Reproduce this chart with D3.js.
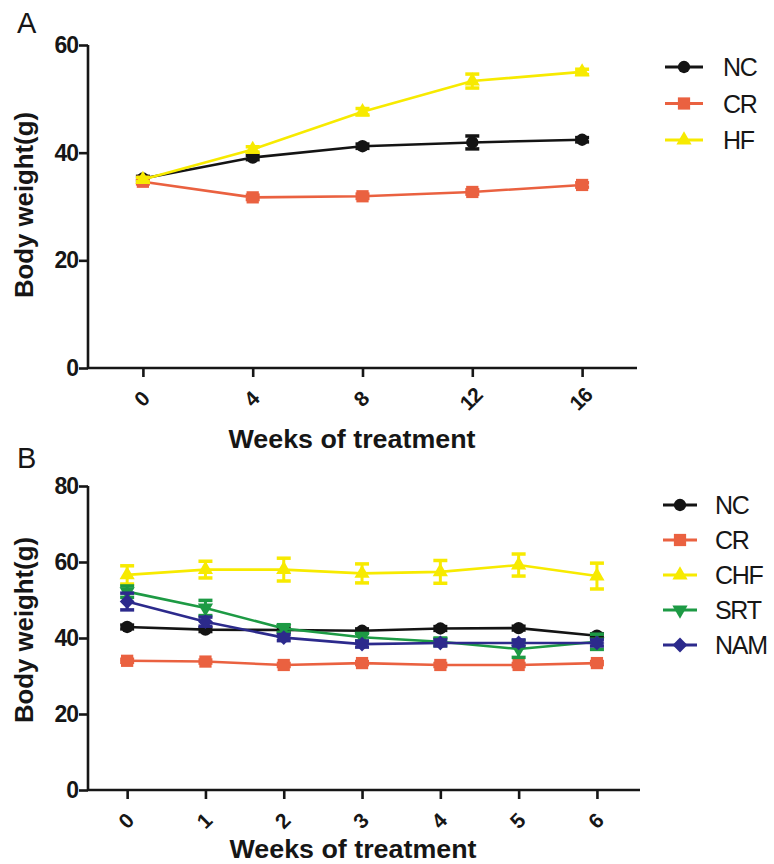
<!DOCTYPE html>
<html>
<head>
<meta charset="utf-8">
<script src="https://cdn.jsdelivr.net/npm/d3@7"></script>
<style>
  body { margin: 0; background: #fff; }
  svg { display: block; font-family: "Liberation Sans", Arial, sans-serif; }
</style>
</head>
<body>
<div id="chart"></div>
<script>
// 数据：A 图 (0-16 周)
const weeksA = [0, 4, 8, 12, 16];
const ncA = [35.2, 39.1, 41.2, 41.9, 42.4];
const ncAErr = [0.4, 0.4, 0.4, 1.2, 0.4];
const crA = [34.6, 31.7, 31.9, 32.7, 34.0];
const crAErr = [0.4, 0.4, 0.4, 0.4, 0.4];
const hfA = [35.0, 40.6, 47.6, 53.3, 55.0];
const hfAErr = [0.4, 0.5, 0.6, 1.3, 0.5];
const yTicksA = [0, 20, 40, 60];

// 数据：B 图 (0-6 周)
const weeksB = [0, 1, 2, 3, 4, 5, 6];
const ncB = [42.9, 42.2, 42.1, 41.9, 42.5, 42.6, 40.6];
const ncBErr = [0.5, 0.5, 0.5, 0.5, 0.5, 0.5, 0.5];
const crB = [34.0, 33.8, 32.9, 33.4, 32.9, 32.9, 33.4];
const crBErr = [0.4, 0.4, 0.4, 0.4, 0.4, 0.4, 0.4];
const chfB = [56.6, 58.0, 58.0, 57.0, 57.4, 59.2, 56.3];
const chfBErr = [2.4, 2.2, 3.0, 2.5, 3.0, 2.9, 3.4];
const srtB = [52.2, 47.9, 42.5, 40.2, 39.0, 37.1, 39.0];
const srtBErr = [1.5, 2.0, 1.0, 1.0, 1.0, 2.2, 2.0];
const namB = [49.6, 44.3, 40.1, 38.4, 38.7, 38.7, 38.7];
const namBErr = [2.2, 1.2, 0.8, 0.8, 0.8, 0.8, 0.8];
const yTicksB = [0, 20, 40, 60, 80];

const W = 774, H = 864;
const ink = '#161616';
const svg = d3.select('#chart').append('svg')
  .attr('width', W).attr('height', H);

// 符号
const symbols = {
  circle: d3.symbol().type(d3.symbolCircle).size(120),
  square: d3.symbol().type(d3.symbolSquare).size(150),
  triangle: d3.symbol().type(d3.symbolTriangle).size(100),
  diamond: d3.symbol().type(d3.symbolSquare).size(110)
};
function markerTransform(shape, x, y) {
  if (shape === 'down') return `translate(${x},${y}) rotate(180)`;
  if (shape === 'diamond') return `translate(${x},${y}) rotate(45)`;
  return `translate(${x},${y})`;
}
function markerPath(shape) {
  if (shape === 'down') return symbols.triangle();
  return symbols[shape]();
}

function drawPanel(cfg) {
  const g = svg.append('g');
  const x = d3.scaleLinear().domain(cfg.xDomain).range([cfg.left, cfg.right]);
  const y = d3.scaleLinear().domain(cfg.yDomain).range([cfg.bottom, cfg.top]);

  // 面板字母
  svg.append('text')
    .attr('x', 17).attr('y', cfg.letterY)
    .attr('fill', ink)
    .style('font-size', '29px')
    .text(cfg.letter);

  // y 轴
  const yAxis = g.append('g')
    .attr('transform', `translate(${cfg.left},0)`)
    .call(d3.axisLeft(y).tickValues(cfg.yTicks).tickSize(9).tickPadding(1).tickFormat(d3.format('d')));
  // x 轴
  const xAxis = g.append('g')
    .attr('transform', `translate(0,${cfg.bottom})`)
    .call(d3.axisBottom(x).tickValues(cfg.weeks).tickSize(9).tickFormat(d3.format('d')));

  [yAxis, xAxis].forEach(a => {
    a.select('.domain').attr('stroke', ink).attr('stroke-width', 2.6);
    a.selectAll('.tick line').attr('stroke', ink).attr('stroke-width', 2.6);
  });
  xAxis.select('.domain').attr('d', `M${cfg.left},0H${cfg.right}`);
  yAxis.select('.domain').attr('d', `M0,${cfg.top}V${cfg.bottom}`);

  yAxis.selectAll('.tick text')
    .attr('fill', ink)
    .style('font-size', '23px')
    .style('font-weight', 'bold')
    .style('letter-spacing', '-1px');

  xAxis.selectAll('.tick text')
    .attr('fill', ink)
    .attr('y', 0).attr('dy', 0)
    .attr('text-anchor', 'middle')
    .attr('transform', `translate(-2,${cfg.xLabelDy}) rotate(-45)`)
    .attr('dominant-baseline', 'central')
    .style('font-size', '21px')
    .style('font-weight', 'bold')
    .style('letter-spacing', '-1px');

  // 轴标题
  svg.append('text')
    .attr('x', cfg.xTitleX).attr('y', cfg.xTitleY)
    .attr('text-anchor', 'middle')
    .attr('textLength', 247).attr('lengthAdjust', 'spacingAndGlyphs')
    .style('font-size', '25px').style('font-weight', 'bold')
    .attr('fill', ink)
    .text('Weeks of treatment');
  svg.append('text')
    .attr('transform', `translate(${cfg.yTitleX},${cfg.yTitleY}) rotate(-90)`)
    .attr('text-anchor', 'middle')
    .attr('textLength', 186).attr('lengthAdjust', 'spacingAndGlyphs')
    .style('font-size', '25px').style('font-weight', 'bold')
    .attr('fill', ink)
    .text('Body weight(g)');

  const line = d3.line().x(d => x(d.w)).y(d => y(d.v));

  cfg.series.forEach((s, si) => {
    const pts = cfg.weeks.map((w, i) => ({ w, v: s.values[i], e: s.err[i] }));
    const sg = g.append('g');
    sg.append('path').datum(pts)
      .attr('d', line)
      .attr('fill', 'none')
      .attr('stroke', s.color)
      .attr('stroke-width', 2.6);
    // 误差线
    pts.forEach(p => {
      sg.append('line')
        .attr('x1', x(p.w)).attr('x2', x(p.w))
        .attr('y1', y(p.v - p.e)).attr('y2', y(p.v + p.e))
        .attr('stroke', s.color).attr('stroke-width', 3);
      [p.v - p.e, p.v + p.e].forEach(v => {
        sg.append('line')
          .attr('x1', x(p.w) - 7).attr('x2', x(p.w) + 7)
          .attr('y1', y(v)).attr('y2', y(v))
          .attr('stroke', s.color).attr('stroke-width', 3.5);
      });
    });
    sg.selectAll('path.mk').data(pts).enter().append('path')
      .attr('class', 'mk')
      .attr('d', markerPath(s.shape))
      .attr('transform', d => markerTransform(s.shape, x(d.w), y(d.v)))
      .attr('fill', s.color);

    // 图例
    const ly = cfg.legendY + si * cfg.legendStep;
    svg.append('line')
      .attr('x1', cfg.legendX).attr('x2', cfg.legendX + cfg.legendLen)
      .attr('y1', ly).attr('y2', ly)
      .attr('stroke', s.color).attr('stroke-width', 3);
    svg.append('path')
      .attr('d', markerPath(s.shape))
      .attr('transform', markerTransform(s.shape, cfg.legendX + cfg.legendLen / 2, ly))
      .attr('fill', s.color);
    svg.append('text')
      .attr('x', cfg.legendTextX).attr('y', ly)
      .attr('dominant-baseline', 'central')
      .style('font-size', '25px')
      .style('letter-spacing', '-1.3px')
      .attr('fill', ink)
      .text(s.name);
  });
}

const black = '#141414', orange = '#ea6140', yellow = '#f7ea00', green = '#1d9a44', navy = '#2c2a8c';

drawPanel({
  letter: 'A', letterY: 33, weeks: weeksA, xDomain: [-2, 18], yDomain: [0, 60], yTicks: yTicksA,
  left: 88, right: 637, top: 45, bottom: 368, xLabelDy: 31,
  xTitleX: 352, xTitleY: 448, yTitleX: 33, yTitleY: 205,
  legendX: 665, legendLen: 38, legendTextX: 723, legendY: 67, legendStep: 36.5,
  series: [
    { name: 'NC', values: ncA, err: ncAErr, color: black, shape: 'circle' },
    { name: 'CR', values: crA, err: crAErr, color: orange, shape: 'square' },
    { name: 'HF', values: hfA, err: hfAErr, color: yellow, shape: 'triangle' }
  ]
});

drawPanel({
  letter: 'B', letterY: 468, weeks: weeksB, xDomain: [-0.5, 6.55], yDomain: [0, 80], yTicks: yTicksB,
  left: 88, right: 640, top: 486, bottom: 790, xLabelDy: 31,
  xTitleX: 353, xTitleY: 858, yTitleX: 33, yTitleY: 630,
  legendX: 663, legendLen: 34, legendTextX: 715, legendY: 505, legendStep: 35,
  series: [
    { name: 'NC', values: ncB, err: ncBErr, color: black, shape: 'circle' },
    { name: 'CR', values: crB, err: crBErr, color: orange, shape: 'square' },
    { name: 'CHF', values: chfB, err: chfBErr, color: yellow, shape: 'triangle' },
    { name: 'SRT', values: srtB, err: srtBErr, color: green, shape: 'down' },
    { name: 'NAM', values: namB, err: namBErr, color: navy, shape: 'diamond' }
  ]
});
</script>
</body>
</html>
